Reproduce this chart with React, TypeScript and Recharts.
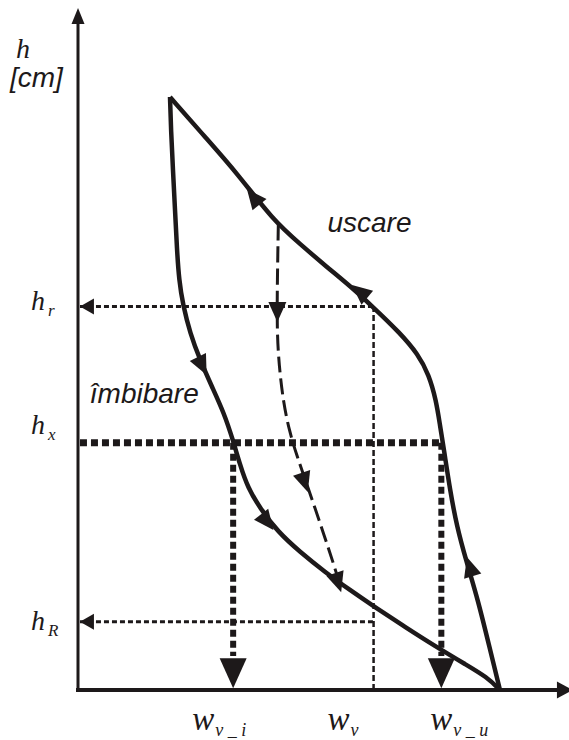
import React from 'react';
import { LineChart, Line, XAxis, YAxis, ReferenceLine, ReferenceDot } from 'recharts';

// water content w [%] against suction h [cm]
// drying branch (uscare), from saturation up to the top of the loop
const dryingW = [42.97, 41.85, 40.73, 39.51, 38.59, 37.88, 37.27, 36.86, 36.46, 35.74, 34.62, 32.79, 30.04, 27.7, 25.36, 22.61, 19.86, 16.19, 12.93, 9.37];
const dryingH = [0, 13.2, 26.4, 38.1, 47.8, 58.7, 70.4, 77.7, 85.0, 92.4, 98.5, 104.7, 112.3, 118.5, 124.0, 130.8, 137.8, 151.6, 162.2, 173.9];

// wetting branch (îmbibare), from the top of the loop back to saturation
const wettingW = [9.37, 9.47, 9.67, 9.88, 10.08, 10.29, 10.69, 11.41, 12.42, 13.65, 14.87, 15.78, 16.5, 17.31, 18.53, 20.37, 22.61, 25.15, 27.7, 30.24, 33.3, 36.35, 39.41, 41.65, 42.97];
const wettingH = [173.9, 164.2, 152.5, 140.8, 129.0, 120.2, 112.9, 104.7, 96.8, 88.9, 81.2, 73.3, 66.0, 59.2, 53.4, 46.3, 40.5, 34.6, 29.3, 24.3, 18.5, 12.9, 7.6, 3.8, 0];

// scanning curve leaving the drying branch
const scanW = [20.4, 20.3, 20.26, 20.47, 20.88, 21.49, 22.3, 23.22, 24.13, 25.05, 25.97, 26.78];
const scanH = [136.5, 120.2, 105.6, 95.3, 85.0, 76.2, 68.6, 61.0, 53.4, 45.5, 37.5, 29.9];

// marked suctions and water contents
const hLevels = [20, 72.5, 112.5];
const hSubs = ['R', 'x', 'r'];
const wLevels = [15.8, 30.1, 37.0];
const wSubs = ['v _ i', 'v', 'v _ u'];

const zip = (w: number[], h: number[]) => w.map((v, i) => ({ w: v, h: h[i] }));
const drying = zip(dryingW, dryingH);
const wetting = zip(wettingW, wettingH);
const scan = zip(scanW, scanH);

const [hR, hx, hr] = hLevels;
const [wvi, wv, wvu] = wLevels;

const INK = '#1d191a';
const SERIF = '"Liberation Serif", "Times New Roman", Times, "DejaVu Serif", serif';
const SANS = '"Liberation Sans", Arial, Helvetica, sans-serif';

// arrow tips on the curves, direction in screen degrees
const curveArrows = [
  { w: 17.2, h: 146.9, deg: -129 },
  { w: 27.9, h: 118.8, deg: -140 },
  { w: 39.6, h: 39.0, deg: -107 },
  { w: 13.1, h: 92.4, deg: 64 },
  { w: 19.9, h: 46.9, deg: 52 },
  { w: 20.3, h: 107.9, deg: 90 },
  { w: 23.4, h: 58.1, deg: 72 },
  { w: 26.8, h: 28.7, deg: 72 },
];

const arrowShape = (deg: number, len: number, half: number) => (p: any) => {
  const a = (deg * Math.PI) / 180;
  const ux = Math.cos(a);
  const uy = Math.sin(a);
  const bx = p.cx - ux * len;
  const by = p.cy - uy * len;
  const nx = -uy * half;
  const ny = ux * half;
  return (
    <polygon
      points={`${p.cx},${p.cy} ${bx + nx},${by + ny} ${bx - nx},${by - ny}`}
      fill={INK}
    />
  );
};

const serifStyle = { fontFamily: SERIF, fontStyle: 'italic' as const };
const sansStyle = { fontFamily: SANS, fontStyle: 'italic' as const };

const textShape = (label: string) => (p: any) => (
  <text x={p.cx} y={p.cy} style={sansStyle} fontSize={28} fill={INK}>
    {label}
  </text>
);

const hDy = [8, -9, 4];
const HTick = (props: any) => {
  const i = hLevels.indexOf(props.payload.value);
  return (
    <text x={31} y={props.y + hDy[i]} style={serifStyle} fontSize={28} fill={INK}>
      h
      <tspan dx={3} dy={6} fontSize={17}>
        {hSubs[i]}
      </tspan>
    </text>
  );
};

const wDx = [-41, -46, -11];
const WTick = (props: any) => {
  const i = wLevels.indexOf(props.payload.value);
  return (
    <text x={props.x + wDx[i]} y={730} style={serifStyle} fontSize={33} fill={INK}>
      w
      <tspan dx={1} dy={6} fontSize={18} style={{ whiteSpace: 'pre' }}>
        {wSubs[i]}
      </tspan>
    </text>
  );
};

const AxisTitle = () => (
  <g>
    <text x={16} y={58} style={serifStyle} fontSize={28} fill={INK}>
      h
    </text>
    <text x={10} y={87} style={sansStyle} fontSize={28} fill={INK}>
      [cm]
    </text>
  </g>
);

const thin = { stroke: INK, strokeWidth: 3, strokeDasharray: '5 3' };
const thick = { stroke: INK, strokeWidth: 7, strokeDasharray: '7 4' };

export default function App() {
  return (
    <div style={{ position: 'absolute', left: 0, top: 0, width: 569, height: 740, background: '#fff' }}>
      <LineChart width={569} height={740} margin={{ top: 8, right: 0, bottom: 0, left: 0 }}>
        <XAxis
          type="number"
          dataKey="w"
          domain={[0, 50]}
          allowDataOverflow
          ticks={wLevels}
          interval={0}
          tick={<WTick />}
          axisLine={false}
          tickLine={false}
          height={50}
        />
        <YAxis
          type="number"
          dataKey="h"
          domain={[0, 200]}
          allowDataOverflow
          ticks={hLevels}
          interval={0}
          tick={<HTick />}
          axisLine={false}
          tickLine={false}
          width={78}
          label={{ content: () => <AxisTitle /> }}
        />

        {/* guide lines */}
        <ReferenceLine segment={[{ x: 0.2, y: hr }, { x: wv, y: hr }]} {...thin} />
        <ReferenceLine segment={[{ x: 0.2, y: hR }, { x: wv, y: hR }]} {...thin} />
        <ReferenceLine segment={[{ x: wv, y: 0 }, { x: wv, y: hr }]} stroke={INK} strokeWidth={2.5} strokeDasharray="6 3" />
        <ReferenceLine segment={[{ x: 0.2, y: hx }, { x: wvu, y: hx }]} {...thick} />
        <ReferenceLine segment={[{ x: wvi, y: hx }, { x: wvi, y: 10 }]} {...thick} strokeWidth={6} />
        <ReferenceLine segment={[{ x: wvu, y: hx }, { x: wvu, y: 10 }]} {...thick} strokeWidth={6} />

        {/* axes */}
        <ReferenceLine segment={[{ x: 0, y: 0 }, { x: 0, y: 196 }]} stroke={INK} strokeWidth={3} strokeLinecap="square" />
        <ReferenceLine segment={[{ x: 0, y: 0 }, { x: 49, y: 0 }]} stroke={INK} strokeWidth={4} strokeLinecap="square" />

        <Line data={drying} dataKey="h" type="basis" stroke={INK} strokeWidth={4.5} dot={false} isAnimationActive={false} />
        <Line data={wetting} dataKey="h" type="basis" stroke={INK} strokeWidth={4.5} dot={false} isAnimationActive={false} />
        <Line
          data={scan}
          dataKey="h"
          type="basis"
          stroke={INK}
          strokeWidth={3}
          strokeDasharray="16 6"
          dot={false}
          isAnimationActive={false}
        />

        {curveArrows.map((a, i) => (
          <ReferenceDot key={i} x={a.w} y={a.h} r={0} ifOverflow="visible" shape={arrowShape(a.deg, 20, 9)} />
        ))}
        <ReferenceDot x={wvi} y={0.5} r={0} ifOverflow="visible" shape={arrowShape(90, 30, 13.5)} />
        <ReferenceDot x={wvu} y={0.5} r={0} ifOverflow="visible" shape={arrowShape(90, 30, 13.5)} />
        <ReferenceDot x={0.2} y={hr} r={0} ifOverflow="visible" shape={arrowShape(180, 14, 8)} />
        <ReferenceDot x={0.2} y={hR} r={0} ifOverflow="visible" shape={arrowShape(180, 14, 8)} />
        <ReferenceDot x={0} y={200} r={0} ifOverflow="visible" shape={arrowShape(-90, 16, 6.5)} />
        <ReferenceDot x={50.4} y={0} r={0} ifOverflow="visible" shape={arrowShape(0, 16, 8.5)} />

        <ReferenceDot x={25.4} y={134.3} r={0} ifOverflow="visible" shape={textShape('uscare')} />
        <ReferenceDot x={1.2} y={84.2} r={0} ifOverflow="visible" shape={textShape('îmbibare')} />
      </LineChart>
    </div>
  );
}
